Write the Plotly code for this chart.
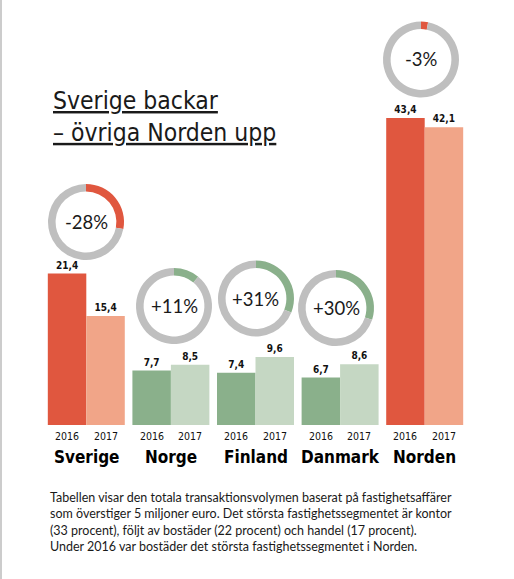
import plotly.graph_objects as go

countries = ["Sverige", "Norge", "Finland", "Danmark", "Norden"]
years = ["2016", "2017"]
values_2016 = [21.4, 7.7, 7.4, 6.7, 43.4]
values_2017 = [15.4, 8.5, 9.6, 8.6, 42.1]
change_pct = [-28, 11, 31, 30, -3]
change_labels = ["-28%", "+11%", "+31%", "+30%", "-3%"]

title_lines = ["Sverige backar", "– övriga Norden upp"]
caption_lines = [
    "Tabellen visar den totala transaktionsvolymen baserat på fastighetsaffärer",
    "som överstiger 5 miljoner euro. Det största fastighetssegmentet är kontor",
    "(33 procent), följt av bostäder (22 procent) och handel (17 procent).",
    "Under 2016 var bostäder det största fastighetssegmentet i Norden.",
]

RED_DARK = "#E0573F"
RED_LIGHT = "#F1A588"
GREEN_DARK = "#8AB08B"
GREEN_LIGHT = "#C5D7C3"
GRAY = "#BFBFBF"

dark_cols = [RED_DARK if c < 0 else GREEN_DARK for c in change_pct]
light_cols = [RED_LIGHT if c < 0 else GREEN_LIGHT for c in change_pct]

W, H = 514, 579
L, R, T, B = 44, 47, 15, 154
PW = W - L - R
PH = H - T - B
BOTTOM_PX = H - B
SCALE = 7.074  # px per unit
YMAX = PH / SCALE


def px_x(p):
    return (p - L) / PW


def px_y(p):
    return (BOTTOM_PX - p) / PH


NARROW = "Liberation Sans Narrow, Arial Narrow, DejaVu Sans Condensed, sans-serif"
BODY = "Lato, Open Sans, sans-serif"

fig = go.Figure()
for vals, cols, yr in [(values_2016, dark_cols, "2016"), (values_2017, light_cols, "2017")]:
    fig.add_trace(go.Bar(
        x=countries, y=vals, name=yr,
        marker=dict(color=cols, line=dict(width=0)),
        texttemplate="%{y:.1f}", textposition="outside",
        textfont=dict(family=NARROW, size=10, color="#111", weight="bold"),
        cliponaxis=False, showlegend=False,
    ))

# donuts
donut_centers = [(86, 222), (174, 306), (256, 298.5), (336, 308), (421, 59.5)]
RAD = 38
annotations = []
for i, (cx, cy) in enumerate(donut_centers):
    pct = abs(change_pct[i])
    col = RED_DARK if change_pct[i] < 0 else GREEN_DARK
    fig.add_trace(go.Pie(
        values=[pct, 100 - pct],
        marker=dict(colors=[col, GRAY], line=dict(width=0)),
        hole=0.8, sort=False, direction="clockwise", rotation=0,
        textinfo="none", hoverinfo="skip", showlegend=False,
        domain=dict(x=[px_x(cx - RAD), px_x(cx + RAD)],
                    y=[px_y(cy + RAD), px_y(cy - RAD)]),
    ))
    annotations.append(dict(
        x=px_x(cx), y=px_y(cy), xref="paper", yref="paper",
        text=change_labels[i], showarrow=False,
        font=dict(family=BODY, size=18.5, color="#1a1a1a"),
        xanchor="center", yanchor="middle",
    ))

# year labels and country names
for c in countries:
    for j, yr in enumerate(years):
        annotations.append(dict(
            x=c, y=0, xref="x", yref="paper", text=yr, showarrow=False,
            xshift=-19.3 if j == 0 else 19.3, yshift=-3,
            xanchor="center", yanchor="top",
            font=dict(family=NARROW, size=10.5, color="#111"),
        ))
    annotations.append(dict(
        x=c, y=0, xref="x", yref="paper", text="<b>" + c + "</b>",
        showarrow=False, yshift=-20, xanchor="center", yanchor="top",
        font=dict(family=NARROW, size=17, color="#000"),
    ))

# title
annotations.append(dict(
    x=px_x(51), y=px_y(84), xref="paper", yref="paper",
    text="<br>".join("<u>" + t + "</u>" for t in title_lines),
    showarrow=False, xanchor="left", yanchor="top", align="left",
    font=dict(family=NARROW, size=24.5, color="#1a1a1a"),
))

# caption
annotations.append(dict(
    x=px_x(48), y=px_y(488), xref="paper", yref="paper",
    text="<br>".join(caption_lines),
    showarrow=False, xanchor="left", yanchor="top", align="left",
    font=dict(family=BODY, size=12.5, color="#1a1a1a"),
))

fig.update_layout(
    width=W, height=H,
    margin=dict(l=L, r=R, t=T, b=B),
    paper_bgcolor="white", plot_bgcolor="white",
    barmode="group", bargap=0.09, bargroupgap=0,
    separators=",.",
    xaxis=dict(showticklabels=False, showgrid=False, zeroline=False,
               showline=False, ticks=""),
    yaxis=dict(range=[0, YMAX], showticklabels=False, showgrid=False,
               zeroline=False, showline=False, ticks=""),
    annotations=annotations,
    shapes=[dict(type="line", xref="paper", yref="paper",
                 x0=px_x(1), x1=px_x(1), y0=px_y(0), y1=px_y(H),
                 line=dict(color="#BBBBBB", width=1.5))],
)

fig.write_html("out.html", config={"displayModeBar": False},
               post_script="document.body.style.margin='0';")
